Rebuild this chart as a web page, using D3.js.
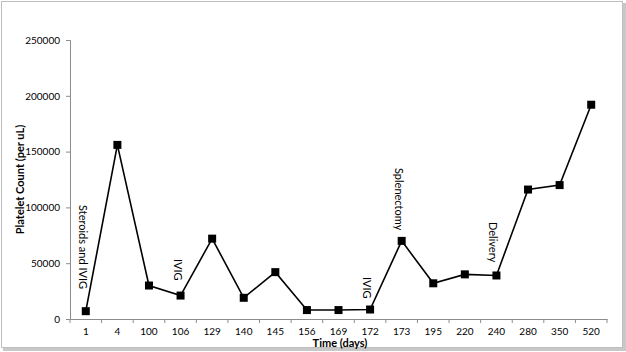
<!DOCTYPE html>
<html lang="en">
<head>
	<meta charset="UTF-8">
	<title>Platelet Count</title>
	<script type="text/javascript" src="https://cdn.jsdelivr.net/npm/d3@7/dist/d3.min.js"></script>
	<style>
		body {
			margin: 0;
			background: #fff;
		}
		svg text {
			font-family: Lato, "Open Sans", sans-serif;
			font-size: 10px;
			fill: #000;
		}
	</style>
</head>
<body>
<div id="viz"></div>
<script type="text/javascript">
	var days = ['1', '4', '100', '106', '129', '140', '145', '156', '169', '172', '173', '195', '220', '240', '280', '350', '520'];
	var platelets = [7000, 156000, 30000, 21000, 72000, 19000, 42000, 8000, 8000, 8500, 70000, 32000, 40000, 39000, 116000, 120000, 192000];
	var yTicks = [0, 50000, 100000, 150000, 200000, 250000];
	var notes = [
		{day: '1', text: 'Steroids and IVIG', top: 205},
		{day: '106', text: 'IVIG', top: 259},
		{day: '172', text: 'IVIG', top: 277},
		{day: '173', text: 'Splenectomy', top: 168},
		{day: '240', text: 'Delivery', top: 222}
	];

	var W = 626, H = 352;
	var margin = {top: 40, left: 70, bottom: 33, right: 20};
	var width = 607 - margin.left;
	var height = 319 - margin.top;

	var svg = d3.select('#viz').append('svg')
		.attr('width', W)
		.attr('height', H);

	// frame with a light shadow on the right / bottom
	svg.append('rect')
		.attr('x', 0).attr('y', 0)
		.attr('width', W).attr('height', H)
		.attr('fill', '#fff');
	svg.append('rect')
		.attr('x', 3).attr('y', 3)
		.attr('width', 623).attr('height', 348)
		.attr('fill', '#c8c8c8');
	svg.append('rect')
		.attr('x', 1.5).attr('y', 1.5)
		.attr('width', 621).attr('height', 346)
		.attr('fill', '#fff')
		.attr('stroke', '#bdbdbd')
		.attr('stroke-width', 1);

	var g = svg.append('g')
		.attr('transform', 'translate(' + margin.left + ',' + margin.top + ')');

	var x = d3.scaleBand()
		.domain(days)
		.range([0, width]);

	var y = d3.scaleLinear()
		.domain([0, 250000])
		.range([height, 0]);

	// y axis
	var gy = g.append('g')
		.call(d3.axisLeft(y).tickValues(yTicks).tickSize(4).tickPadding(6).tickFormat(d3.format('d')));
	gy.select('.domain').attr('stroke', '#8c8c8c');
	gy.selectAll('.tick line').attr('stroke', '#8c8c8c');
	gy.selectAll('text').style('font-size', '10px');

	// x axis: ticks sit between categories
	var gx = g.append('g')
		.attr('transform', 'translate(0,' + height + ')')
		.call(d3.axisBottom(x).tickSize(0).tickPadding(9));
	gx.select('.domain').attr('stroke', '#8c8c8c');
	gx.selectAll('text').style('font-size', '10px');
	gx.selectAll('.sep')
		.data(days.concat(['end']))
		.enter().append('line')
		.attr('class', 'sep')
		.attr('x1', function (d, i) { return x.step() * i; })
		.attr('x2', function (d, i) { return x.step() * i; })
		.attr('y1', 0)
		.attr('y2', 4)
		.attr('stroke', '#8c8c8c');

	// axis titles
	svg.append('text')
		.attr('transform', 'translate(24,' + (margin.top + height / 2) + ') rotate(-90)')
		.attr('text-anchor', 'middle')
		.style('font-size', '11px')
		.style('font-weight', 'bold')
		.text('Platelet Count (per uL)');
	svg.append('text')
		.attr('x', 340)
		.attr('y', 347)
		.attr('text-anchor', 'middle')
		.style('font-size', '11px')
		.style('font-weight', 'bold')
		.text('Time (days)');

	// series
	var pts = days.map(function (d, i) {
		return {day: d, value: platelets[i]};
	});
	var cx = function (d) { return x(d.day) + x.bandwidth() / 2; };

	g.append('path')
		.datum(pts)
		.attr('fill', 'none')
		.attr('stroke', '#000')
		.attr('stroke-width', 1.6)
		.attr('d', d3.line().x(cx).y(function (d) { return y(d.value); }));

	g.selectAll('.pt')
		.data(pts)
		.enter().append('rect')
		.attr('class', 'pt')
		.attr('x', function (d) { return cx(d) - 4; })
		.attr('y', function (d) { return y(d.value) - 4; })
		.attr('width', 8)
		.attr('height', 8)
		.attr('fill', '#000');

	// vertical annotations
	g.selectAll('.note')
		.data(notes)
		.enter().append('text')
		.attr('class', 'note')
		.attr('transform', function (d) {
			return 'translate(' + (x(d.day) + x.bandwidth() / 2 - 7) + ',' + (d.top - margin.top) + ') rotate(90)';
		})
		.style('font-size', '11px')
		.text(function (d) { return d.text; });
</script>
</body>
</html>
